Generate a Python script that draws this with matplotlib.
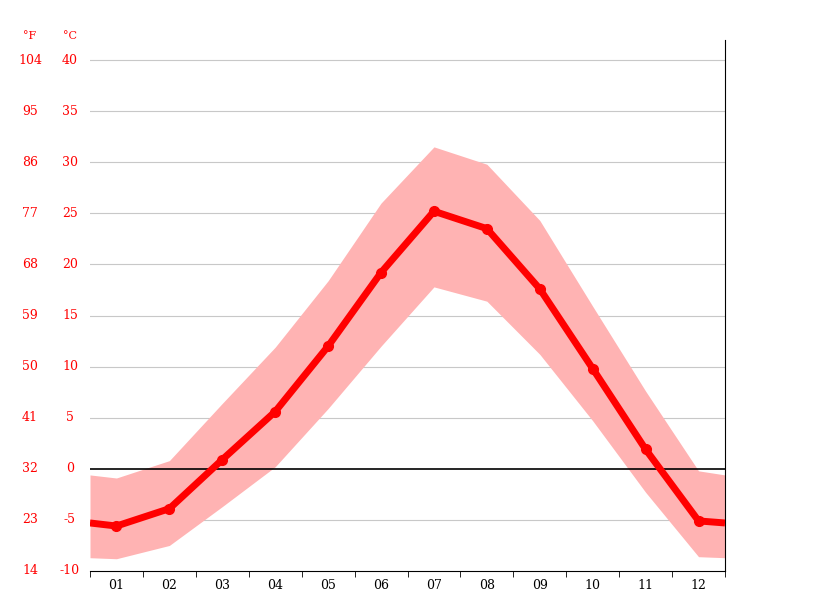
import matplotlib
matplotlib.use("Agg")
import matplotlib.pyplot as plt

months = ["01","02","03","04","05","06","07","08","09","10","11","12"]
x_pos = [0.5,1,2,3,4,5,6,7,8,9,10,11,12,12.5]
mean_t = [-5.3,-5.6,-3.9,0.9,5.6,12.0,19.2,25.2,23.5,17.6,9.8,1.9,-5.1,-5.3]
max_t = [-0.6,-0.9,0.8,6.4,11.9,18.4,26.0,31.5,29.8,24.3,15.9,7.6,-0.2,-0.6]
min_t = [-8.7,-8.8,-7.5,-3.7,0.2,5.9,12.0,17.8,16.4,11.2,4.7,-2.3,-8.6,-8.7]
c_ticks = [-10,-5,0,5,10,15,20,25,30,35,40]
f_ticks = [14,23,32,41,50,59,68,77,86,95,104]

W,H = 815,611
fig = plt.figure(figsize=(W/100,H/100), dpi=100)
ax = fig.add_axes([90/W, 40/H, 635/W, 531/H])
ax.set_xlim(0.5,12.5)
ax.set_ylim(-10,40+20/10.22)
ax.fill_between(x_pos, min_t, max_t, color="#ffb3b3", lw=0, zorder=2)
for c in c_ticks:
    if c == 0:
        ax.axhline(0, color="black", lw=1.2, zorder=3)
    elif c > -10:
        ax.axhline(c, color="#c8c8c8", lw=0.8, zorder=1)
ax.plot(x_pos, mean_t, color="red", lw=5, zorder=4, solid_capstyle="butt")
ax.plot(x_pos[1:-1], mean_t[1:-1], "o", color="red", ms=7, zorder=5)

for s in ["left","top"]:
    ax.spines[s].set_visible(False)
ax.spines["right"].set_color("black")
ax.spines["bottom"].set_color("black")
ax.set_yticks([])
ax.set_xticks(range(1,13))
ax.set_xticklabels(months, family="DejaVu Serif", fontsize=9)
ax.set_xticks([i+0.5 for i in range(0,13)], minor=True)
ax.tick_params(axis="x", which="major", length=0, pad=6)
ax.tick_params(axis="x", which="minor", length=4)

tr = ax.get_yaxis_transform()
for c,f in zip(c_ticks,f_ticks):
    ax.text(-20/635, c, str(c), transform=tr, color="red", ha="center", va="center",
            family="DejaVu Serif", fontsize=9)
    ax.text(-60/635, c, str(f), transform=tr, color="red", ha="center", va="center",
            family="DejaVu Serif", fontsize=9)
fig.text(30/W, 1-36/H, "°F", color="red", ha="center", va="center", family="DejaVu Serif", fontsize=8)
fig.text(70/W, 1-36/H, "°C", color="red", ha="center", va="center", family="DejaVu Serif", fontsize=8)
fig.savefig("out.png", dpi=100)
